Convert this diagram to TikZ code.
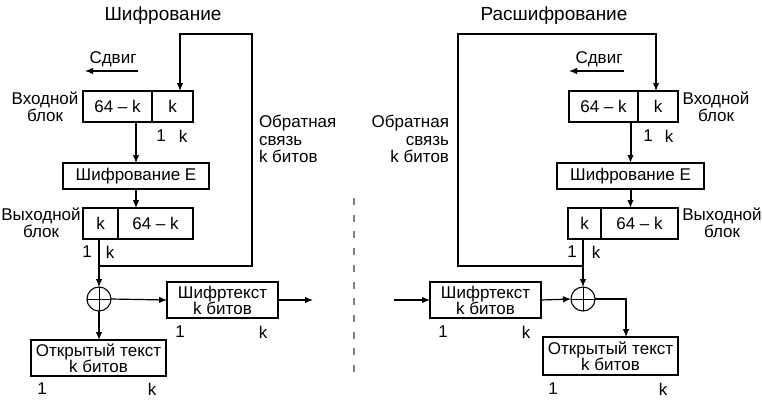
\documentclass[tikz,border=0pt]{standalone}
\usepackage{fontspec}
\setmainfont{Liberation Sans}
\usetikzlibrary{arrows.meta}
\begin{document}
\begin{tikzpicture}[x=1pt,y=-1pt,
  every node/.style={font=\fontsize{17}{16}\selectfont, inner sep=0pt, outer sep=0pt},
  ttl/.style={font=\fontsize{19}{19}\selectfont},
  box/.style={draw, line width=1.1pt, minimum height=31pt, align=center},
  lbl/.style={align=center, font=\fontsize{17}{15.5}\selectfont},
  fbl/.style={font=\fontsize{17}{17.5}\selectfont},
  arr/.style={line width=1.2pt, -{Latex[length=8pt,width=6.5pt]}},
  tarr/.style={line width=2pt, -{Latex[length=8pt,width=6.5pt]}},
  xorc/.style={draw, circle, line width=1.1pt, minimum size=24pt},
]
\useasboundingbox (0,0) rectangle (762,400);
\fill[white] (0,0) rectangle (762,400);

% ---------- Left: encryption ----------
\node[ttl] (title1) at (163,16) {Шифрование};
\node[box, minimum width=69pt] (in1L) at (117.5,106.5) {64 – k};
\node[box, minimum width=41pt] (in1R) at (172.5,106.5) {k};
\node[lbl] (inlab1) at (45,107) {Входной\\блок};
\node (in1one) at (161,136) {1};
\node (in1k) at (183,136) {k};
\node (shift1) at (113,59) {Сдвиг};
\coordinate (sh1a) at (138,71);
\coordinate (sh1b) at (85,71);
\draw[arr] (sh1a) -- (sh1b);

\node[box, minimum width=146pt, minimum height=26pt] (enc1) at (136,176) {Шифрование E};
\draw[arr] (enc1.north |- in1L.south) -- (enc1.north);

\node[box, minimum width=35pt] (out1L) at (100.5,223.5) {k};
\node[box, minimum width=75pt] (out1R) at (155.5,223.5) {64 – k};
\draw[arr] (enc1.south) -- (enc1.south |- out1R.north);
\node[lbl] (outlab1) at (41,223) {Выходной\\блок};
\node (out1one) at (87,252) {1};
\node (out1k) at (110,252) {k};

\node[xorc] (xor1) at (99,299) {};
\draw[line width=1pt] (xor1.north) -- (xor1.south) (xor1.west) -- (xor1.east);
\coordinate (j1) at (99,266);
\coordinate (fb1) at (252,34);
\draw[arr] (out1L.south -| xor1) -- (xor1.north);
\draw[arr] (j1) -| (fb1) -| ([xshift=7.5pt]in1R.north);
\draw[line width=2pt] (fb1) -- ([xshift=7.5pt]in1R.north |- fb1);
\node[fbl, align=left, anchor=west] (fbt1) at (259,139) {Обратная\\связь\\k битов};

\node[box, minimum width=111pt, minimum height=36pt] (ct1) at (222.5,300) {Шифртекст\\k битов};
\draw[arr] (xor1.east) -- (ct1.west);
\coordinate (ct1out) at (313,300);
\draw[arr] (ct1.east) -- (ct1out);
\node (ct1one) at (180,332) {1};
\node (ct1k) at (263,332) {k};

\node[box, minimum width=135pt, minimum height=36pt] (pt1) at (98.5,358) {Открытый текст\\k битов};
\draw[arr] (xor1.south) -- (pt1.north -| xor1);
\node (pt1one) at (42,389) {1};
\node (pt1k) at (152,389) {k};

% ---------- divider ----------
\coordinate (dv1) at (354,198);
\coordinate (dv2) at (354,373);
\draw[gray, line width=2pt, dash pattern=on 7pt off 9.7pt] (dv1) -- (dv2);

% ---------- Right: decryption ----------
\node[ttl] (title2) at (554,16) {Расшифрование};
\node[box, minimum width=69pt] (in2L) at (603.5,106.5) {64 – k};
\node[box, minimum width=40pt] (in2R) at (658,106.5) {k};
\node[lbl] (inlab2) at (716,107) {Входной\\блок};
\node (in2one) at (648,136) {1};
\node (in2k) at (669,136) {k};
\node (shift2) at (599,59) {Сдвиг};
\coordinate (sh2a) at (624,71);
\coordinate (sh2b) at (569,71);
\draw[arr] (sh2a) -- (sh2b);

\node[box, minimum width=147pt, minimum height=26pt] (enc2) at (630.5,176) {Шифрование E};
\draw[tarr] (enc2.north |- in2L.south) -- (enc2.north);

\node[box, minimum width=33pt] (out2L) at (584.5,223.5) {k};
\node[box, minimum width=77pt] (out2R) at (639.5,223.5) {64 – k};
\draw[tarr] (enc2.south) -- (enc2.south |- out2R.north);
\node[lbl] (outlab2) at (722,223) {Выходной\\блок};
\node (out2one) at (572,252) {1};
\node (out2k) at (596,252) {k};

\node[xorc] (xor2) at (583,299) {};
\draw[line width=1pt] (xor2.north) -- (xor2.south) (xor2.west) -- (xor2.east);
\coordinate (j2) at (583,266);
\coordinate (fb2) at (458,34);
\draw[arr] (out2L.south -| xor2) -- (xor2.north);
\draw[arr] (j2) -| (fb2) -| ([xshift=-2pt]in2R.north);
\node[fbl, align=right, anchor=east] (fbt2) at (449,139) {Обратная\\связь\\k битов};

\node[box, minimum width=111pt, minimum height=36pt] (ct2) at (485.5,300) {Шифртекст\\k битов};
\coordinate (ct2in) at (394,300);
\draw[arr] (ct2in) -- (ct2.west);
\draw[arr] (ct2.east) -- (xor2.west);
\node (ct2one) at (443,332) {1};
\node (ct2k) at (526,332) {k};

\node[box, minimum width=135pt, minimum height=38pt] (pt2) at (610.5,356) {Открытый текст\\k битов};
\draw[arr] (xor2.east) -| ([xshift=15.5pt]pt2.north);
\node (pt2one) at (553,389) {1};
\node (pt2k) at (663,389) {k};
\end{tikzpicture}
\end{document}
